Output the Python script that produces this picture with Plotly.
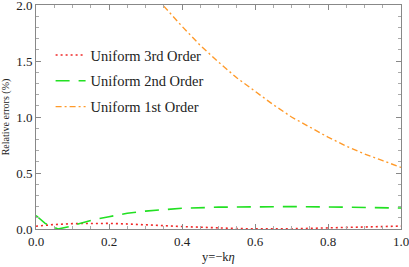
import plotly.graph_objects as go

# 3rd order (red dotted)
x3 = [0.0, 0.05, 0.1, 0.15, 0.2, 0.25, 0.3, 0.35, 0.4, 0.45, 0.5, 0.55, 0.6, 0.65, 0.7, 0.75, 0.8, 0.85, 0.9, 0.95, 1.0]
y3 = [0.025, 0.04, 0.048, 0.05, 0.05, 0.045, 0.04, 0.03, 0.022, 0.014, 0.008, 0.004, 0.001, 0.0, 0.002, 0.006, 0.01, 0.014, 0.018, 0.022, 0.026]

# 2nd order (green dashed)
x2 = [0.0, 0.025, 0.06, 0.09, 0.12, 0.16, 0.2, 0.25, 0.3, 0.35, 0.4, 0.5, 0.6, 0.7, 0.8, 0.9, 1.0]
y2 = [0.12, 0.05, 0.0, 0.02, 0.05, 0.085, 0.11, 0.14, 0.16, 0.175, 0.185, 0.195, 0.2, 0.2, 0.197, 0.192, 0.187]

# 1st order (orange dash-dot)
x1 = [0.35, 0.4, 0.45, 0.5, 0.55, 0.6, 0.65, 0.7, 0.75, 0.8, 0.85, 0.9, 0.95, 1.0]
y1 = [1.99, 1.81, 1.64, 1.49, 1.35, 1.23, 1.11, 1.0, 0.91, 0.82, 0.74, 0.67, 0.61, 0.55]

names = ["Uniform 3rd Order", "Uniform 2nd Order", "Uniform 1st Order"]
x_ticks = [0.0, 0.2, 0.4, 0.6, 0.8, 1.0]
y_ticks = [0.0, 0.5, 1.0, 1.5, 2.0]
x_title = "y=−k<i>η</i>"
y_title = "Relative errors (%)"

serif = "Times New Roman, Liberation Serif, serif"

fig = go.Figure()
fig.add_trace(go.Scatter(x=x3, y=y3, mode="lines", name=names[0], legendgroup="a",
                         line=dict(color="#f02828", width=1.6, dash="2px,3px")))
fig.add_trace(go.Scatter(x=x2, y=y2, mode="lines", name=names[1], legendgroup="b",
                         line=dict(color="#22e022", width=1.6, dash="14px,9px")))
fig.add_trace(go.Scatter(x=x1, y=y1, mode="lines", name=names[2], legendgroup="c",
                         line=dict(color="#ff9a2a", width=1.4, dash="6px,3px,2px,3px")))

axis_common = dict(
    showgrid=False, zeroline=False, showline=True, linecolor="#888888", linewidth=1,
    mirror="allticks", ticks="inside", ticklen=5, tickcolor="#888888", tickwidth=1,
    tickfont=dict(family=serif, size=13, color="#222222"), tickformat=".1f",
    ticklabeloverflow="allow", automargin=False,
)

fig.update_xaxes(range=[0, 1], tickvals=x_ticks,
                 minor=dict(dtick=0.05, ticklen=3, tickcolor="#aaaaaa", ticks="inside"),
                 **axis_common)
fig.update_yaxes(range=[0, 2], tickvals=y_ticks,
                 minor=dict(dtick=0.1, ticklen=3, tickcolor="#aaaaaa", ticks="inside"),
                 title=dict(text=y_title, font=dict(family=serif, size=10, color="#222222"), standoff=4),
                 **axis_common)

fig.add_annotation(text=x_title, xref="paper", yref="paper", x=0.5, y=-0.125,
                   xanchor="center", yanchor="middle", showarrow=False,
                   font=dict(family=serif, size=12.5, color="#222222"))

fig.update_layout(
    width=409, height=267,
    margin=dict(l=36, r=8, t=5, b=38),
    paper_bgcolor="white", plot_bgcolor="white",
    legend=dict(x=0.04, y=0.848, xanchor="left", yanchor="top",
                font=dict(family=serif, size=14.5, color="#222222"),
                bgcolor="rgba(0,0,0,0)", tracegroupgap=4),
    showlegend=True,
)

fig.write_html("out.html", config={"displayModeBar": False},
               post_script="document.body.style.margin='0';document.body.style.padding='0';")
